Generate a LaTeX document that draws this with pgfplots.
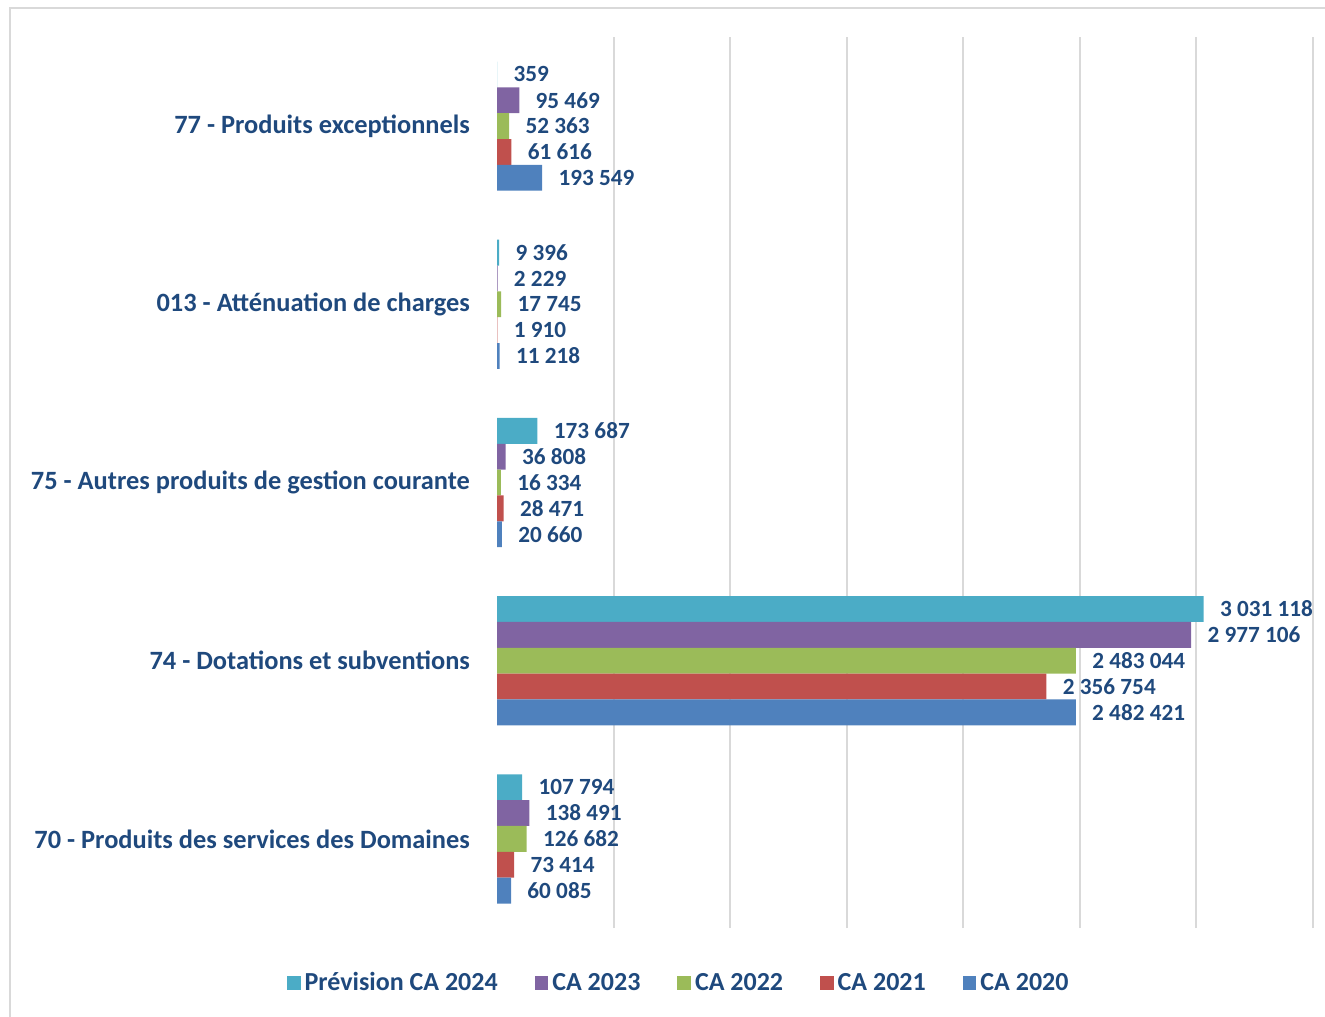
\documentclass[border=0pt]{standalone}
\usepackage{pgfplots}
\pgfplotsset{compat=1.18}
\usepackage{fontspec}
\setmainfont{Carlito}
\definecolor{txt}{HTML}{1F497D}
\definecolor{c24}{HTML}{4BACC6}
\definecolor{c23}{HTML}{8064A2}
\definecolor{c22}{HTML}{9BBB59}
\definecolor{c21}{HTML}{C0504D}
\definecolor{c20}{HTML}{4F81BD}
\begin{document}
\begin{tikzpicture}
\path[use as bounding box] (0pt,0pt) rectangle (662.5pt,-508pt);
\draw[black!15, line width=1pt] (5pt,-4pt) rectangle (665pt,-511pt);
\begin{axis}[
  at={(248.5pt,-464pt)}, anchor=south west,
  scale only axis, width=408pt, height=445.5pt,
  xbar, bar width=0.145,
  xmin=0, xmax=3500000, ymin=-0.5, ymax=4.5,
  scaled x ticks=false,
  xtick={500000,1000000,1500000,2000000,2500000,3000000,3500000},
  xticklabels={},
  xmajorgrids, grid style={black!15, line width=1pt},
  major tick length=0pt,
  axis line style={draw=none},
  ytick={0,1,2,3,4},
  yticklabels={70 - Produits des services des Domaines, 74 - Dotations et subventions, 75 - Autres produits de gestion courante, 013 - Atténuation de charges, 77 - Produits exceptionnels},
  yticklabel style={font=\fontsize{13.2}{15}\selectfont\bfseries, text=txt, xshift=-10pt},
  nodes near coords, point meta=explicit symbolic,
  nodes near coords style={font=\fontsize{11.6}{13}\selectfont\bfseries, text=txt, anchor=west, xshift=4.7pt},
  legend columns=-1,
  legend style={draw=none, fill=none, at={(0.224,-0.062)}, anchor=center,
    font=\fontsize{13}{15}\selectfont\bfseries, text=txt,
    /tikz/every even column/.append style={column sep=16.5pt}},
  legend image code/.code={\fill[#1] (0pt,-3.4pt) rectangle (6.8pt,3.4pt);},
]
\addplot[fill=c24, draw=none, bar shift=0.29] coordinates {
  (107794,0) [107 794] (3031118,1) [3 031 118] (173687,2) [173 687] (9396,3) [9 396] (359,4) [359]};
\addplot[fill=c23, draw=none, bar shift=0.145] coordinates {
  (138491,0) [138 491] (2977106,1) [2 977 106] (36808,2) [36 808] (2229,3) [2 229] (95469,4) [95 469]};
\addplot[fill=c22, draw=none, bar shift=0] coordinates {
  (126682,0) [126 682] (2483044,1) [2 483 044] (16334,2) [16 334] (17745,3) [17 745] (52363,4) [52 363]};
\addplot[fill=c21, draw=none, bar shift=-0.145] coordinates {
  (73414,0) [73 414] (2356754,1) [2 356 754] (28471,2) [28 471] (1910,3) [1 910] (61616,4) [61 616]};
\addplot[fill=c20, draw=none, bar shift=-0.29] coordinates {
  (60085,0) [60 085] (2482421,1) [2 482 421] (20660,2) [20 660] (11218,3) [11 218] (193549,4) [193 549]};
\legend{Prévision CA 2024, CA 2023, CA 2022, CA 2021, CA 2020}
\end{axis}
\end{tikzpicture}
\end{document}
